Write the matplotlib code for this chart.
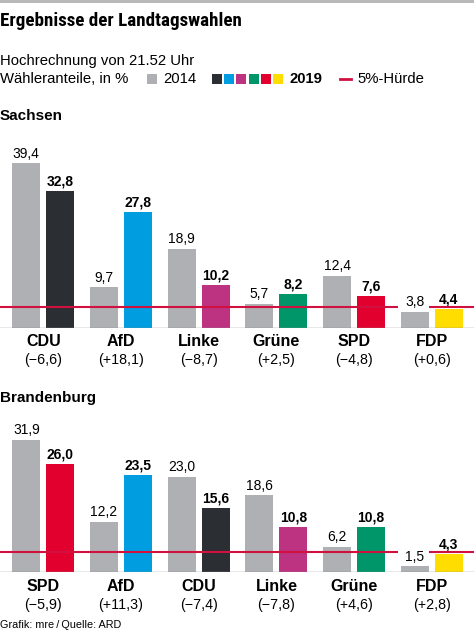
import matplotlib
matplotlib.use("Agg")
import matplotlib.pyplot as plt
from matplotlib.patches import Rectangle

plt.rcParams['font.family'] = ['Liberation Sans', 'DejaVu Sans']

# data
sachsen_parties = ['CDU', 'AfD', 'Linke', 'Grüne', 'SPD', 'FDP']
sachsen_2014 = [39.4, 9.7, 18.9, 5.7, 12.4, 3.8]
sachsen_2019 = [32.8, 27.8, 10.2, 8.2, 7.6, 4.4]

brandenburg_parties = ['SPD', 'AfD', 'CDU', 'Linke', 'Grüne', 'FDP']
brandenburg_2014 = [31.9, 12.2, 23.0, 18.6, 6.2, 1.5]
brandenburg_2019 = [26.0, 23.5, 15.6, 10.8, 10.8, 4.3]

party_colors = {'CDU': '#2b2e32', 'AfD': '#009ee0', 'Linke': '#be3282',
                'Grüne': '#00966a', 'SPD': '#e2002f', 'FDP': '#ffdd00'}
legend_order = ['CDU', 'AfD', 'Linke', 'Grüne', 'SPD', 'FDP']
gray = '#aeb0b3'
hurdle = 5
hurdle_color = '#d0103f'

W, H = 474, 632
fig = plt.figure(figsize=(W / 100, H / 100), dpi=100)


def fx(x):
    return x / W


def fy(y):
    return 1 - y / H


def fmt(v):
    return f"{v:.1f}".replace('.', ',')


def fmt_diff(d):
    s = f"{abs(d):.1f}".replace('.', ',')
    return f"(+{s})" if d >= 0 else f"(\u2212{s})"


# top rule
fig.add_artist(Rectangle((0, fy(3)), 1, 3 / H, transform=fig.transFigure,
                         color='#b8b8b8', lw=0))

fig.text(fx(0), fy(20.5), 'Ergebnisse der Landtagswahlen', fontsize=13.7,
         fontweight='bold', family=['Roboto Condensed', 'Liberation Sans'],
         va='center', ha='left')
fig.text(fx(0), fy(61), 'Hochrechnung von 21.52 Uhr', fontsize=10.7,
         va='center', ha='left')
fig.text(fx(0), fy(79), 'Wähleranteile, in %', fontsize=10.7,
         va='center', ha='left')

# legend
fig.add_artist(Rectangle((fx(147), fy(84)), 10 / W, 10 / H,
                         transform=fig.transFigure, color=gray, lw=0))
fig.text(fx(163), fy(79), '2014', fontsize=10.7, va='center', ha='left')
for k, p in enumerate(legend_order):
    fig.add_artist(Rectangle((fx(212 + k * 12.2), fy(84)), 10 / W, 10 / H,
                             transform=fig.transFigure, color=party_colors[p], lw=0))
fig.text(fx(289), fy(79), '2019', fontsize=10.7, fontweight='bold',
         va='center', ha='left')
fig.add_artist(plt.Line2D([fx(340), fx(351)], [fy(79), fy(79)],
                          transform=fig.transFigure, color=hurdle_color, lw=2))
fig.text(fx(357), fy(79), '5%-Hürde', fontsize=10.7, va='center', ha='left')

fig.text(fx(0), fy(116), 'Sachsen', fontsize=11, fontweight='bold',
         va='center', ha='left')
fig.text(fx(0), fy(398), 'Brandenburg', fontsize=11, fontweight='bold',
         va='center', ha='left')
fig.text(fx(0), fy(625), 'Grafik: mre\u2009/\u2009Quelle: ARD', fontsize=7.8,
         va='center', ha='left')

group_px = 77.7
x0_px = 43.3
off = 17 / group_px
bw = 28 / group_px
xlim = (-x0_px / group_px, (W - x0_px) / group_px)


def panel(baseline_px, height_px, scale, parties, v14, v19):
    ax = fig.add_axes([0, fy(baseline_px), 1, height_px / H])
    ax.set_xlim(*xlim)
    ax.set_ylim(0, height_px / scale)
    ax.axis('off')
    xs = list(range(len(parties)))
    ax.bar([x - off for x in xs], v14, width=bw, color=gray, zorder=2)
    ax.bar([x + off for x in xs], v19, width=bw,
           color=[party_colors[p] for p in parties], zorder=2)
    ax.axhline(0, color='#8c8c8c', lw=1, zorder=3)
    n = len(parties) - 1
    ax.plot([xlim[0], n - off - 0.215], [hurdle, hurdle], color=hurdle_color,
            lw=1.5, zorder=4, solid_capstyle='butt')
    ax.plot([n + off - 0.25, xlim[1]], [hurdle, hurdle], color=hurdle_color,
            lw=1.5, zorder=4, solid_capstyle='butt')
    for x, a, b, p in zip(xs, v14, v19, parties):
        ax.annotate(fmt(a), (x - off, a), xytext=(0, 9.5), textcoords='offset pixels',
                    ha='center', va='center', fontsize=10, annotation_clip=False)
        ax.annotate(fmt(b), (x + off, b), xytext=(0, 9.5), textcoords='offset pixels',
                    ha='center', va='center', fontsize=10, fontweight='bold',
                    annotation_clip=False)
        ax.annotate(p, (x, 0), xytext=(0, -14), textcoords='offset pixels',
                    ha='center', va='center', fontsize=11.5, fontweight='bold',
                    annotation_clip=False)
        ax.annotate(fmt_diff(round(b - a, 1)), (x, 0), xytext=(0, -32.5),
                    textcoords='offset pixels', ha='center', va='center',
                    fontsize=10.3, annotation_clip=False)
    return ax


panel(327.7, 170, 4.17, sachsen_parties, sachsen_2014, sachsen_2019)
panel(572.3, 140, 4.15, brandenburg_parties, brandenburg_2014, brandenburg_2019)

fig.savefig('out.png', dpi=100)
